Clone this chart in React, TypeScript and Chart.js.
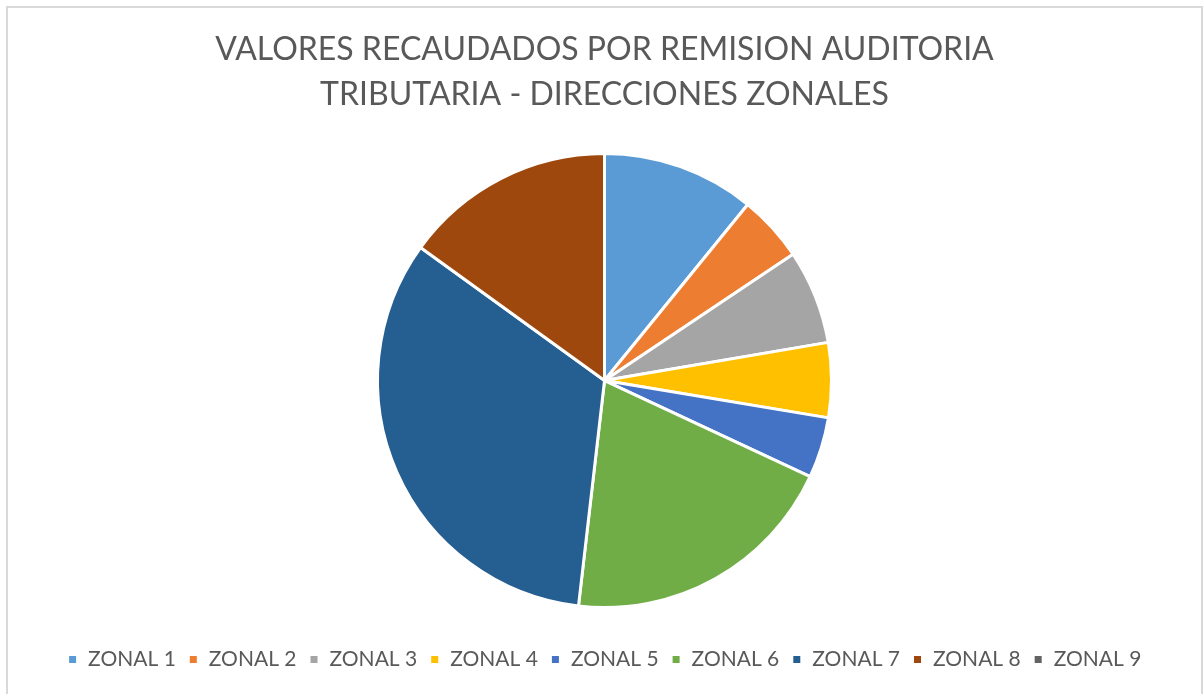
import React, { useEffect, useRef } from "react";
import { Chart, registerables } from "chart.js";

Chart.register(...registerables);

const labels = ["ZONAL 1", "ZONAL 2", "ZONAL 3", "ZONAL 4", "ZONAL 5", "ZONAL 6", "ZONAL 7", "ZONAL 8", "ZONAL 9"];
const values = [10.87, 4.73, 6.71, 5.32, 4.33, 19.87, 33.13, 15.04, 0];
const colors = ["#5B9BD5", "#ED7D31", "#A5A5A5", "#FFC000", "#4472C4", "#70AD47", "#255E91", "#9E480E", "#636363"];
const titleLines = ["VALORES RECAUDADOS POR REMISION AUDITORIA", "TRIBUTARIA - DIRECCIONES ZONALES"];

export default function App() {
  const ref = useRef<HTMLCanvasElement | null>(null);
  useEffect(() => {
    if (!ref.current) return;
    const chart = new Chart(ref.current, {
      type: "pie",
      data: {
        labels,
        datasets: [
          {
            data: values,
            backgroundColor: colors,
            borderColor: "#ffffff",
            borderWidth: 3,
            radius: 227,
          },
        ],
      },
      options: {
        animation: false,
        responsive: false,
        maintainAspectRatio: false,
        layout: { padding: { top: 27, bottom: 14, left: 5, right: 0 } },
        plugins: {
          title: {
            display: true,
            text: titleLines,
            color: "#595959",
            font: { family: "Lato", size: 32, weight: "normal", lineHeight: 1.4 },
            padding: { top: 0, bottom: 8 },
          },
          legend: {
            position: "bottom",
            labels: {
              color: "#595959",
              font: { family: "Lato", size: 21 },
              boxWidth: 10,
              boxHeight: 10,
              padding: 12.5,
            },
          },
          tooltip: { enabled: false },
        },
      },
    });
    return () => chart.destroy();
  }, []);
  return (
    <div style={{ position: "fixed", left: 0, top: 0, width: 1204, height: 694, background: "#fff" }}>
      <div
        style={{
          position: "absolute",
          left: 6,
          top: 6,
          width: 1193,
          height: 700,
          border: "2px solid #d9d9d9",
        }}
      />
      <canvas ref={ref} width={1204} height={694} style={{ position: "absolute", left: 0, top: 0 }} />
    </div>
  );
}
